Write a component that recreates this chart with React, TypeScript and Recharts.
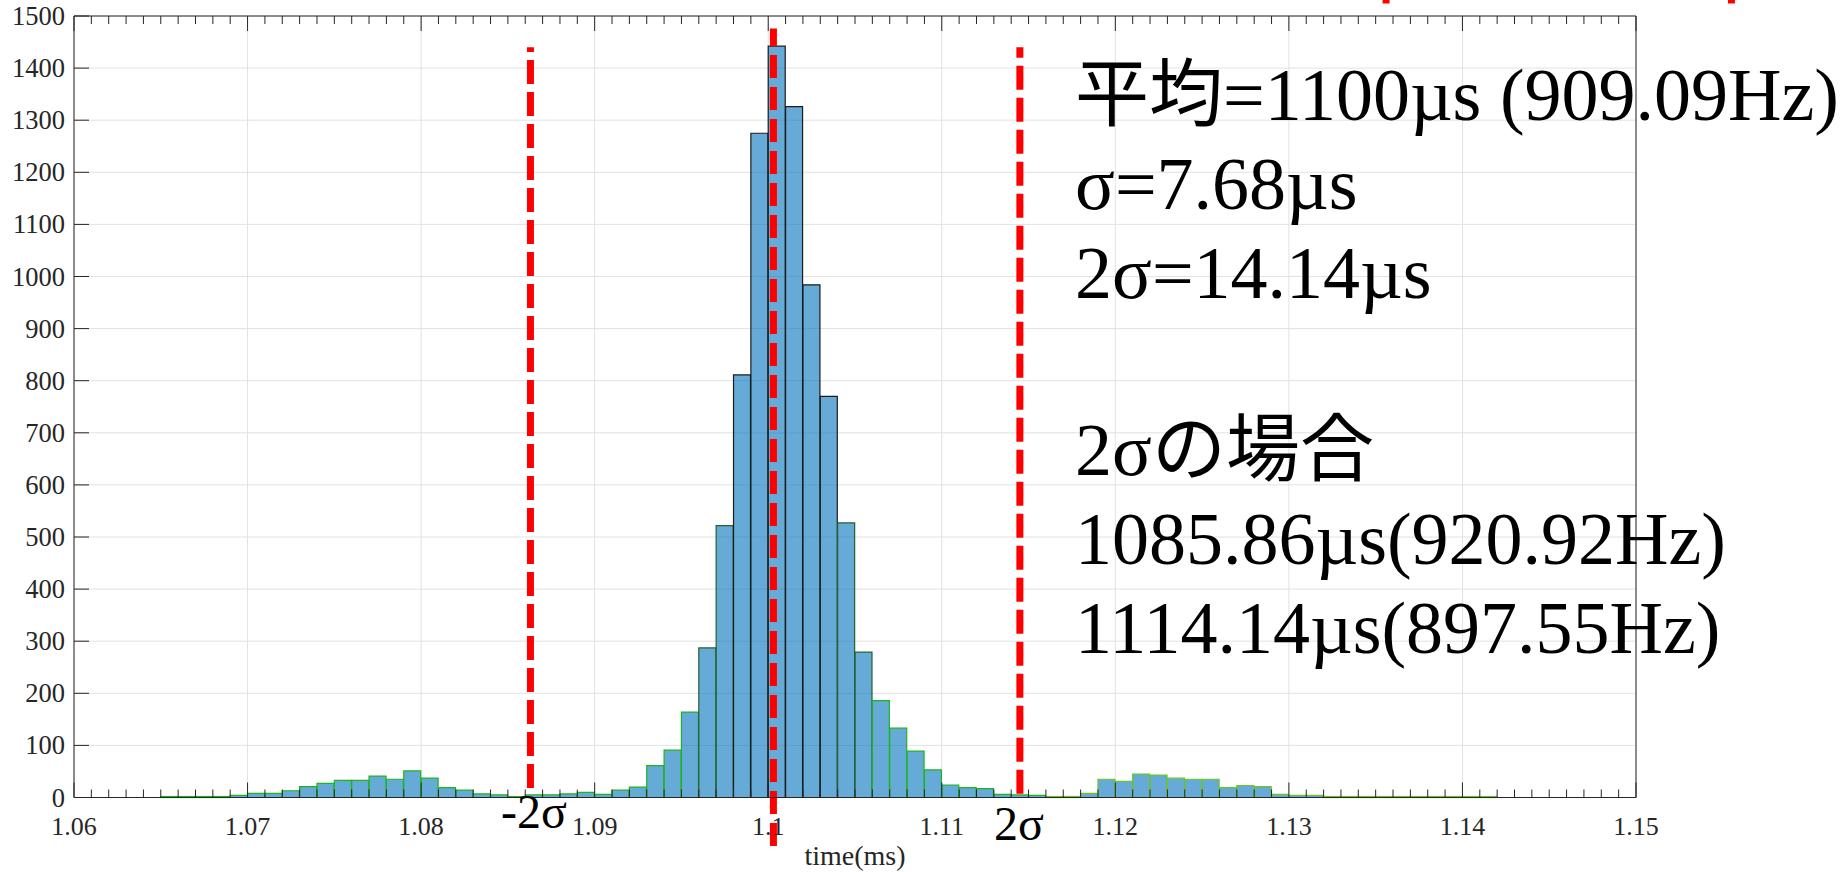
import React from 'react';
import { ComposedChart, Bar, Cell, XAxis, YAxis, CartesianGrid, ReferenceLine, Label } from 'recharts';

// ---- histogram bins (centres, ms) ----
const binCenters = [
  1.0655, 1.0665, 1.0675, 1.0685, 1.0695, 1.0705, 1.0715, 1.0725, 1.0735, 1.0745,
  1.0755, 1.0765, 1.0775, 1.0785, 1.0795, 1.0805, 1.0815, 1.0825, 1.0835, 1.0845,
  1.0855, 1.0865, 1.0875, 1.0885, 1.0895, 1.0905, 1.0915, 1.0925, 1.0935, 1.0945,
  1.0955, 1.0965, 1.0975, 1.0985, 1.0995, 1.1005, 1.1015, 1.1025, 1.1035, 1.1045,
  1.1055, 1.1065, 1.1075, 1.1085, 1.1095, 1.1105, 1.1115, 1.1125, 1.1135, 1.1145,
  1.1155, 1.1165, 1.1175, 1.1185, 1.1195, 1.1205, 1.1215, 1.1225, 1.1235, 1.1245,
  1.1255, 1.1265, 1.1275, 1.1285, 1.1295, 1.1305, 1.1315, 1.1325, 1.1335, 1.1345,
  1.1355, 1.1365, 1.1375, 1.1385, 1.1395, 1.1405, 1.1415,
];

// ---- counts per bin ----
const counts = [
  0, 0, 0, 0, 4, 8, 8, 13, 21, 27,
  33, 33, 41, 35, 51, 37, 19, 14, 7, 5,
  0, 5, 5, 7, 10, 6, 14, 20, 61, 91,
  164, 287, 522, 811, 1275, 1442, 1326, 984, 770, 527,
  279, 186, 133, 89, 53, 24, 19, 17, 6, 5,
  4, 1, 2, 8, 35, 31, 45, 43, 37, 35,
  35, 19, 23, 21, 6, 4, 4, 0, 0, 0,
  0, 0, 0, 0, 0, 0, 0,
];

// ---- axis ticks ----
const xMajorTicks = [1.06, 1.07, 1.08, 1.09, 1.1, 1.11, 1.12, 1.13, 1.14, 1.15];
const xTickLabels = ['1.06', '1.07', '1.08', '1.09', '1.1', '1.11', '1.12', '1.13', '1.14', '1.15'];
const yTicks = [0, 100, 200, 300, 400, 500, 600, 700, 800, 900, 1000, 1100, 1200, 1300, 1400, 1500];

// ---- annotation lines (mean / ±2σ), in data units ----
const meanX = 1.1003;
const meanLineRange = [-93, 1476];
const minus2SigmaX = 1.0863;
const minus2SigmaRange = [18, 1440];
const plus2SigmaX = 1.1145;
const plus2SigmaRange = [7, 1440];
const topMarksX = [1.1356, 1.1555];
const topMarksRange = [1524, 1532];

const annotationLines = [
  '平均=1100µs (909.09Hz)',
  'σ=7.68µs',
  '2σ=14.14µs',
  '',
  '2σの場合',
  '1085.86µs(920.92Hz)',
  '1114.14µs(897.55Hz)',
];

// minor ticks every 0.001 ms
const minorTicks: number[] = [];
for (let i = 0; i <= 90; i++) minorTicks.push(Math.round((1.06 + i * 0.001) * 1000) / 1000);

const histData = binCenters.map((x, i) => ({ x, count: counts[i] }));

const SERIF = '"Liberation Serif", "Times New Roman", "Noto Sans CJK JP", serif';
const AXIS = '#262626';

const majorIndex = (v: number) => xMajorTicks.findIndex((m) => Math.abs(m - v) < 1e-7);

const edgeColor = (x: number, c: number) =>
  c >= 700 ? '#1c1c1c' : c >= 250 ? '#24602e' : x > 1.1155 ? '#6cc426' : '#1eb41e';

const BottomTick = (props: any) => {
  const { x, y, payload } = props;
  const idx = majorIndex(payload.value);
  return (
    <g>
      <line x1={x} x2={x} y1={y} y2={y - (idx >= 0 ? 15 : 8)} stroke={AXIS} strokeWidth={1} />
      {idx >= 0 && (
        <text x={x} y={y + 37.5} textAnchor="middle" fontFamily={SERIF} fontSize={26} fill={AXIS}>
          {xTickLabels[idx]}
        </text>
      )}
    </g>
  );
};

const TopTick = (props: any) => {
  const { x, y, payload } = props;
  const idx = majorIndex(payload.value);
  return <line x1={x} x2={x} y1={y} y2={y + (idx >= 0 ? 15 : 8)} stroke={AXIS} strokeWidth={1} />;
};

const LeftTick = (props: any) => {
  const { x, y, payload } = props;
  return (
    <g>
      <line x1={x} x2={x + 15} y1={y} y2={y} stroke={AXIS} strokeWidth={1} />
      <text x={x - 9} y={y + 9} textAnchor="end" fontFamily={SERIF} fontSize={26.5} fill={AXIS}>
        {payload.value}
      </text>
    </g>
  );
};

const RightTick = (props: any) => {
  const { x, y } = props;
  return <line x1={x} x2={x - 15} y1={y} y2={y} stroke={AXIS} strokeWidth={1} />;
};

export default function App() {
  return (
    <div style={{ position: 'absolute', left: 0, top: 0, width: 1845, height: 872, background: '#fff' }}>
      <ComposedChart
        width={1845}
        height={872}
        data={histData}
        margin={{ top: 15, right: 208, bottom: 0, left: 0 }}
        barCategoryGap={0}
        barGap={0}
      >
        <CartesianGrid
          stroke="#e2e2e2"
          strokeWidth={1}
          verticalValues={xMajorTicks}
          horizontalValues={yTicks}
        />
        <XAxis
          dataKey="x"
          type="number"
          domain={[1.06, 1.15]}
          allowDataOverflow
          ticks={minorTicks}
          interval={0}
          tickSize={0}
          tickMargin={0}
          tickLine={false}
          tick={(p: any) => <BottomTick {...p} />}
          height={74.5}
          axisLine={{ stroke: AXIS, strokeWidth: 1 }}
          label={
            <Label
              value="time(ms)"
              position="insideBottom"
              offset={7}
              style={{ fontFamily: SERIF, fontSize: 28, fill: AXIS }}
            />
          }
        />
        <XAxis
          xAxisId="top"
          orientation="top"
          dataKey="x"
          type="number"
          domain={[1.06, 1.15]}
          allowDataOverflow
          ticks={minorTicks}
          interval={0}
          tickSize={0}
          tickMargin={0}
          tickLine={false}
          tick={(p: any) => <TopTick {...p} />}
          height={1}
          axisLine={{ stroke: AXIS, strokeWidth: 1 }}
        />
        <YAxis
          type="number"
          domain={[0, 1500]}
          ticks={yTicks}
          interval={0}
          tickSize={0}
          tickMargin={0}
          tickLine={false}
          tick={(p: any) => <LeftTick {...p} />}
          width={74}
          axisLine={{ stroke: AXIS, strokeWidth: 1 }}
        />
        <YAxis
          yAxisId="right"
          orientation="right"
          type="number"
          domain={[0, 1500]}
          ticks={yTicks}
          interval={0}
          tickSize={0}
          tickMargin={0}
          tickLine={false}
          tick={(p: any) => <RightTick {...p} />}
          width={1}
          axisLine={{ stroke: AXIS, strokeWidth: 1 }}
        />
        <Bar
          dataKey="count"
          fill="#0072BD"
          fillOpacity={0.6}
          strokeWidth={1.2}
          minPointSize={1}
          isAnimationActive={false}
        >
          {histData.map((d, i) => (
            <Cell key={i} stroke={edgeColor(d.x, d.count)} />
          ))}
        </Bar>
        <ReferenceLine
          segment={[{ x: minus2SigmaX, y: minus2SigmaRange[0] }, { x: minus2SigmaX, y: minus2SigmaRange[1] }]}
          stroke="#ff0000"
          strokeWidth={7}
          strokeDasharray="24 8"
          ifOverflow="visible"
        />
        <ReferenceLine
          segment={[{ x: plus2SigmaX, y: plus2SigmaRange[0] }, { x: plus2SigmaX, y: plus2SigmaRange[1] }]}
          stroke="#ff0000"
          strokeWidth={7}
          strokeDasharray="24 8"
          ifOverflow="visible"
        />
        <ReferenceLine
          segment={[{ x: meanX, y: meanLineRange[0] }, { x: meanX, y: meanLineRange[1] }]}
          stroke="#ff0000"
          strokeWidth={7}
          strokeDasharray="23 9"
          ifOverflow="visible"
        />
        {topMarksX.map((mx, i) => (
          <ReferenceLine
            key={'tm' + i}
            segment={[{ x: mx, y: topMarksRange[0] }, { x: mx, y: topMarksRange[1] }]}
            stroke="#ff0000"
            strokeWidth={7}
            ifOverflow="visible"
          />
        ))}
      </ComposedChart>
      <svg
        width={1845}
        height={872}
        style={{ position: 'absolute', left: 0, top: 0, pointerEvents: 'none' }}
      >
        {annotationLines.map((t, i) =>
          t ? (
            <text key={i} x={1075} y={120 + i * 88.8} fontFamily={SERIF} fontSize={74} fill="#000">
              {t}
            </text>
          ) : null
        )}
        <text x={501} y={828} fontFamily={SERIF} fontSize={48} fill="#000">
          -2σ
        </text>
        <text x={994} y={840} fontFamily={SERIF} fontSize={48} fill="#000">
          2σ
        </text>
      </svg>
    </div>
  );
}
